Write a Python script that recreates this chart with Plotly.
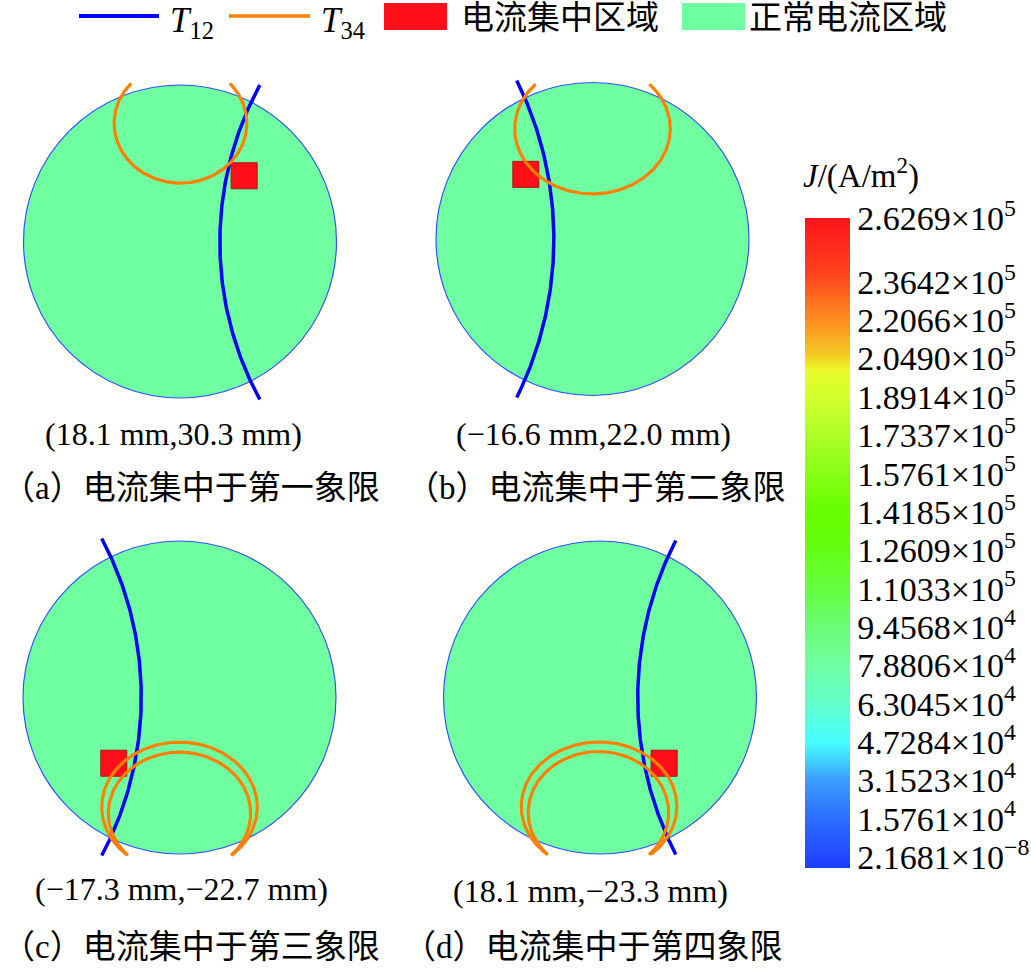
import numpy as np
import plotly.graph_objects as go

# ---------------- data ----------------
panels = ["a", "b", "c", "d"]
panel_titles = ["（a）电流集中于第一象限", "（b）电流集中于第二象限",
                "（c）电流集中于第三象限", "（d）电流集中于第四象限"]
peak_labels = ["(18.1 mm,30.3 mm)", "(−16.6 mm,22.0 mm)",
               "(−17.3 mm,−22.7 mm)", "(18.1 mm,−23.3 mm)"]

# conductor cross-section (normalised radius = 1)
disk_r = [1.0, 1.0, 1.0, 1.0]

# current-concentration square (centre, normalised units)
hot_x = [0.41, -0.426, -0.42, 0.41]
hot_y = [0.42, 0.413, -0.42, -0.42]

# T12 arc: three points read on each curve (top end, apex, bottom end)
t12_top_x = [0.51, -0.484, -0.497, 0.484]
t12_top_y = [1.00, 1.013, 1.016, 1.003]
t12_mid_x = [0.255, -0.247, -0.247, 0.242]
t12_mid_y = [-0.05, -0.026, 0.112, 0.067]
t12_bot_x = [0.51, -0.484, -0.497, 0.484]
t12_bot_y = [-1.01, -1.013, -1.01, -1.003]

# T34 arcs (ellipse arcs: centre, radii, start/end angle in degrees)
t34_panel = [0, 1, 2, 2, 3, 3]
t34_cx = [0.003, 0.0, 0.0, 0.0, -0.006, -0.01]
t34_cy = [0.755, 0.705, -0.70, -0.74, -0.696, -0.735]
t34_rx = [0.424, 0.497, 0.497, 0.455, 0.497, 0.449]
t34_ry = [0.382, 0.417, 0.415, 0.391, 0.412, 0.390]
t34_t0 = [138, 137, -48, -43.5, -48, -44]
t34_t1 = [402, 403, 228, 223.5, 228, 224]

# colour bar (current density J, A/m^2)
J_ticks = [2.1681e-8, 1.5761e4, 3.1523e4, 4.7284e4, 6.3045e4, 7.8806e4,
           9.4568e4, 1.1033e5, 1.2609e5, 1.4185e5, 1.5761e5, 1.7337e5,
           1.8914e5, 2.0490e5, 2.2066e5, 2.3642e5, 2.6269e5]
J_step = 1.5761e4

# ---------------- styles / layout constants ----------------
W, H = 1031, 973
SERIF = "Liberation Serif, Times New Roman, serif"
CJK = "Liberation Serif, Noto Sans CJK SC, sans-serif"
FILL = "#70FFA0"
RED = "#FF0F19"
BLUE = "#0000FF"
ORANGE = "#FF8000"
panel_cx_px = [180, 592.5, 179.5, 600]
panel_cy_px = [241.5, 239, 697.5, 697.5]
PXU = 156.5
HALF = 1.14

colorscale = [
    [0.000, "rgb(30,60,255)"], [0.077, "rgb(45,110,255)"], [0.137, "rgb(60,160,255)"],
    [0.194, "rgb(70,255,255)"], [0.257, "rgb(100,255,200)"], [0.317, "rgb(112,255,160)"],
    [0.377, "rgb(105,252,110)"], [0.437, "rgb(100,255,60)"], [0.495, "rgb(100,255,15)"],
    [0.555, "rgb(105,255,0)"], [0.615, "rgb(140,255,25)"], [0.675, "rgb(180,255,40)"],
    [0.735, "rgb(215,255,45)"], [0.766, "rgb(235,250,40)"], [0.794, "rgb(245,195,35)"],
    [0.854, "rgb(255,130,30)"], [0.917, "rgb(255,65,30)"], [1.000, "rgb(255,20,25)"],
]


def circle3(p1, p2, p3):
    ax, ay = p1; bx, by = p2; cx, cy = p3
    d = 2 * (ax * (by - cy) + bx * (cy - ay) + cx * (ay - by))
    ux = ((ax**2 + ay**2) * (by - cy) + (bx**2 + by**2) * (cy - ay) + (cx**2 + cy**2) * (ay - by)) / d
    uy = ((ax**2 + ay**2) * (cx - bx) + (bx**2 + by**2) * (ax - cx) + (cx**2 + cy**2) * (bx - ax)) / d
    return ux, uy, np.hypot(ax - ux, ay - uy)


def arc_through(p1, p2, p3, n=200):
    ux, uy, r = circle3(p1, p2, p3)
    a1 = np.arctan2(p1[1] - uy, p1[0] - ux)
    a2 = np.arctan2(p2[1] - uy, p2[0] - ux)
    a3 = np.arctan2(p3[1] - uy, p3[0] - ux)
    tau = 2 * np.pi
    d13 = (a3 - a1) % tau
    d12 = (a2 - a1) % tau
    sweep = d13 if d12 < d13 else d13 - tau
    t = a1 + np.linspace(0, sweep, n)
    return ux + r * np.cos(t), uy + r * np.sin(t)


def tick_text(v):
    e = int(np.floor(np.log10(abs(v))))
    m = v / 10**e
    es = str(e).replace("-", "−")
    return f"{m:.4f}×10<sup>{es}</sup>"


fig = go.Figure()
layout_axes = {}
shapes = []
annotations = []

for i, p in enumerate(panels):
    sfx = "" if i == 0 else str(i + 1)
    xa, ya = "x" + sfx, "y" + sfx
    half_px = HALF * PXU
    xd = [(panel_cx_px[i] - half_px) / W, (panel_cx_px[i] + half_px) / W]
    yd = [(H - panel_cy_px[i] - half_px) / H, (H - panel_cy_px[i] + half_px) / H]
    common = dict(visible=False, showgrid=False, zeroline=False, fixedrange=True)
    layout_axes["xaxis" + sfx] = dict(domain=xd, range=[-HALF, HALF], anchor=ya, **common)
    layout_axes["yaxis" + sfx] = dict(domain=yd, range=[-HALF, HALF], anchor=xa, **common)

    # conductor disk
    shapes.append(dict(type="circle", xref=xa, yref=ya, x0=-disk_r[i], x1=disk_r[i],
                       y0=-disk_r[i], y1=disk_r[i], fillcolor=FILL,
                       line=dict(color="#3050FF", width=1.2), layer="below"))

    # current-concentration square
    fig.add_trace(go.Scatter(x=[hot_x[i]], y=[hot_y[i]], xaxis=xa, yaxis=ya, mode="markers",
                             marker=dict(symbol="square", size=26, color=RED,
                                         line=dict(color="#B01010", width=1)),
                             showlegend=False, hoverinfo="skip"))

    # T12 curve
    ax_, ay_ = arc_through((t12_top_x[i], t12_top_y[i]), (t12_mid_x[i], t12_mid_y[i]),
                           (t12_bot_x[i], t12_bot_y[i]))
    fig.add_trace(go.Scatter(x=ax_, y=ay_, xaxis=xa, yaxis=ya, mode="lines",
                             line=dict(color=BLUE, width=3.5), name="T12",
                             showlegend=False, hoverinfo="skip"))

    # T34 curves
    for k, pi in enumerate(t34_panel):
        if pi != i:
            continue
        t = np.radians(np.linspace(t34_t0[k], t34_t1[k], 240))
        fig.add_trace(go.Scatter(x=t34_cx[k] + t34_rx[k] * np.cos(t),
                                 y=t34_cy[k] + t34_ry[k] * np.sin(t),
                                 xaxis=xa, yaxis=ya, mode="lines",
                                 line=dict(color=ORANGE, width=3.2), name="T34",
                                 showlegend=False, hoverinfo="skip"))

# colour bar (hidden heatmap carries the scale)
cmax = J_ticks[-1]
cmin = -0.287 * J_step
fig.add_trace(go.Heatmap(z=[[cmin, cmax]], x=[50, 51], y=[50], xaxis="x", yaxis="y",
                         zmin=cmin, zmax=cmax, colorscale=colorscale, opacity=0,
                         hoverinfo="skip", showscale=True,
                         colorbar=dict(x=805 / W, xanchor="left", xref="paper",
                                       y=1 - 218 / H, yanchor="top", yref="paper",
                                       thickness=45, thicknessmode="pixels",
                                       len=650, lenmode="pixels",
                                       outlinewidth=0, xpad=0, ypad=0, ticks="",
                                       tickvals=J_ticks, ticktext=[tick_text(v) for v in J_ticks],
                                       tickfont=dict(family=SERIF, size=34, color="black"))))

annotations.append(dict(x=861 / W, y=1 - 174 / H, xref="paper", yref="paper",
                        text="<i>J</i>/(A/m<sup>2</sup>)", showarrow=False,
                        xanchor="center", yanchor="middle",
                        font=dict(family=SERIF, size=33, color="black")))

# captions
coord_cx = [173, 593, 181, 590]
coord_cy = [434, 434, 889, 891]
title_x = [-4, 404, -4, 401]
title_cy = [488, 488, 947, 947]
for i in range(4):
    annotations.append(dict(x=coord_cx[i] / W, y=1 - coord_cy[i] / H, xref="paper", yref="paper",
                            text=peak_labels[i], showarrow=False, xanchor="center", yanchor="middle",
                            font=dict(family=SERIF, size=32, color="black")))
    annotations.append(dict(x=max(title_x[i], 0) / W, y=1 - title_cy[i] / H, xref="paper", yref="paper",
                            text=panel_titles[i], showarrow=False, xanchor="left", yanchor="middle",
                            font=dict(family=CJK, size=33, color="black")))

# legend (drawn manually to match the wide keys)
leg_y = 16
shapes.append(dict(type="line", xref="paper", yref="paper", x0=79 / W, x1=159 / W,
                   y0=1 - leg_y / H, y1=1 - leg_y / H, line=dict(color=BLUE, width=4)))
shapes.append(dict(type="line", xref="paper", yref="paper", x0=229 / W, x1=310 / W,
                   y0=1 - leg_y / H, y1=1 - leg_y / H, line=dict(color=ORANGE, width=3.5)))
shapes.append(dict(type="rect", xref="paper", yref="paper", x0=384 / W, x1=447 / W,
                   y0=1 - 30 / H, y1=1 - 3 / H, fillcolor=RED, line=dict(width=0)))
shapes.append(dict(type="rect", xref="paper", yref="paper", x0=682 / W, x1=745 / W,
                   y0=1 - 30 / H, y1=1 - 3 / H, fillcolor=FILL, line=dict(width=0)))
legend_items = [("<i>T</i><sub>12</sub>", 168, SERIF, 35, 22),
                ("<i>T</i><sub>34</sub>", 319, SERIF, 35, 22),
                ("电流集中区域", 459, CJK, 33, 18),
                ("正常电流区域", 747, CJK, 33, 18)]
for txt, xpx, fam, sz, ypx in legend_items:
    annotations.append(dict(x=xpx / W, y=1 - ypx / H, xref="paper", yref="paper", text=txt,
                            showarrow=False, xanchor="left", yanchor="middle",
                            font=dict(family=fam, size=sz, color="black")))

fig.update_layout(width=W, height=H, margin=dict(l=0, r=0, t=0, b=0),
                  paper_bgcolor="white", plot_bgcolor="rgba(0,0,0,0)",
                  showlegend=False, shapes=shapes, annotations=annotations, **layout_axes)

fig.write_html("out.html")
